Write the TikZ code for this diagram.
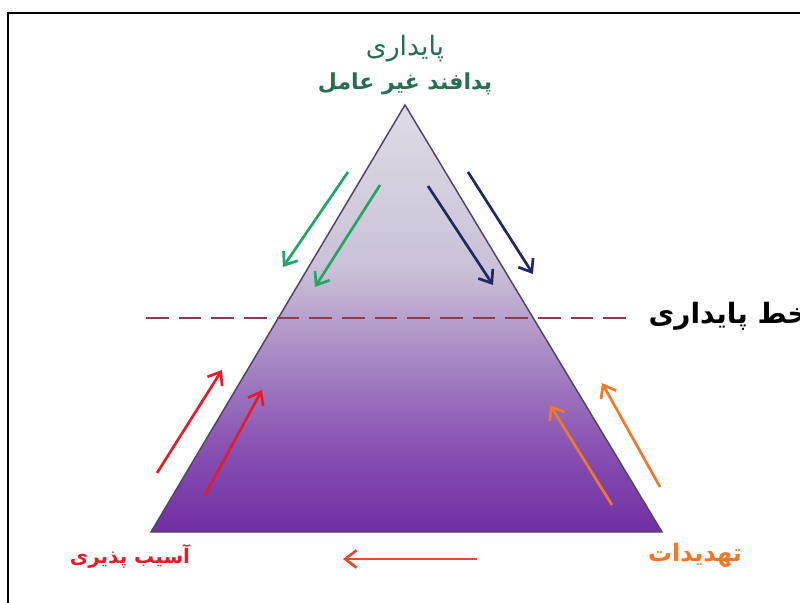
\documentclass[tikz,border=0pt]{standalone}
\usepackage{fontspec}
\usetikzlibrary{arrows.meta}
\TeXXeTstate=1
\newfontfamily\fa[Script=Arabic]{DejaVu Sans}
\definecolor{pbot}{RGB}{114,46,164}
\definecolor{pm1}{RGB}{135,80,178}
\definecolor{pm2}{RGB}{160,122,192}
\definecolor{pm3}{RGB}{186,166,206}
\definecolor{pm4}{RGB}{202,192,216}
\definecolor{ptop}{RGB}{222,220,227}
\definecolor{edgec}{RGB}{80,68,100}
\definecolor{greenc}{RGB}{30,168,100}
\definecolor{labgreen}{RGB}{40,110,80}
\definecolor{navyc}{RGB}{30,40,100}
\definecolor{redc}{RGB}{232,26,40}
\definecolor{orangec}{RGB}{240,120,40}
\definecolor{botarrow}{RGB}{222,78,50}
\definecolor{dashc}{RGB}{140,60,80}
\pgfdeclareverticalshading{pyr}{100bp}{color(0bp)=(pbot); color(25bp)=(pbot); color(34.6bp)=(pm1); color(42.8bp)=(pm2); color(51bp)=(pm3); color(55.7bp)=(pm4); color(75bp)=(ptop); color(100bp)=(ptop)}
\tikzset{
  arr/.style={line width=2pt, -{Straight Barb[length=8.5pt,width=13pt,line width=2pt]}},
  lab/.style={inner sep=0pt, font=\fa\bfseries},
}
\begin{document}
\begin{tikzpicture}[x=0.75pt,y=-0.75pt]
\useasboundingbox (0,0) rectangle (800,603);
\fill[white] (0,0) rectangle (800,603);
% frame
\draw[line width=2.2pt] (8,603) -- (8,13) -- (800,13);
% pyramid
\coordinate (apex) at (405,105);
\coordinate (bl) at (151,532);
\coordinate (br) at (662,532);
\shade[shading=pyr] (apex) -- (bl) -- (br) -- cycle;
\draw[edgec, line width=1.1pt, line join=miter] (apex) -- (bl) -- (br) -- cycle;
% dashed line
\coordinate (d1) at (146,318);
\coordinate (d2) at (628,318);
\draw[dashc, line width=1.6pt, dash pattern=on 17pt off 7.5pt] (d1) -- (d2);
% labels
\node[lab, font=\fa, text=labgreen] (l1) at (405,49) {\fontsize{20pt}{22pt}\selectfont\beginR پایداری\endR};
\node[lab, text=labgreen] (l2) at (405,84) {\fontsize{16.5pt}{18pt}\selectfont\beginR پدافند غیر عامل\endR};
\node[lab, text=black, anchor=east] (l3) at (808,316) {\fontsize{21pt}{23pt}\selectfont\beginR خط پایداری\endR};
\node[lab, text=redc] (l4) at (130,556) {\fontsize{15pt}{17pt}\selectfont\beginR آسیب پذیری\endR};
\node[lab, text=orangec] (l5) at (695,555) {\fontsize{18pt}{20pt}\selectfont\beginR تهدیدات\endR};
% arrows
\coordinate (g1a) at (348,172); \coordinate (g1b) at (283,267);
\coordinate (g2a) at (380,185); \coordinate (g2b) at (315,287);
\coordinate (n1a) at (428,186); \coordinate (n1b) at (493,285);
\coordinate (n2a) at (468,172); \coordinate (n2b) at (533,274);
\coordinate (r1a) at (157,473); \coordinate (r1b) at (222,370);
\coordinate (r2a) at (205,495); \coordinate (r2b) at (262,390);
\coordinate (o1a) at (612,505); \coordinate (o1b) at (550,405);
\coordinate (o2a) at (660,487); \coordinate (o2b) at (602,383);
\coordinate (ba) at (477,559); \coordinate (bb) at (343,559);
\draw[arr, greenc] (g1a) -- (g1b);
\draw[arr, greenc] (g2a) -- (g2b);
\draw[arr, navyc] (n1a) -- (n1b);
\draw[arr, navyc] (n2a) -- (n2b);
\draw[arr, redc] (r1a) -- (r1b);
\draw[arr, redc] (r2a) -- (r2b);
\draw[arr, orangec] (o1a) -- (o1b);
\draw[arr, orangec] (o2a) -- (o2b);
\draw[arr, botarrow] (ba) -- (bb);
\end{tikzpicture}
\end{document}
